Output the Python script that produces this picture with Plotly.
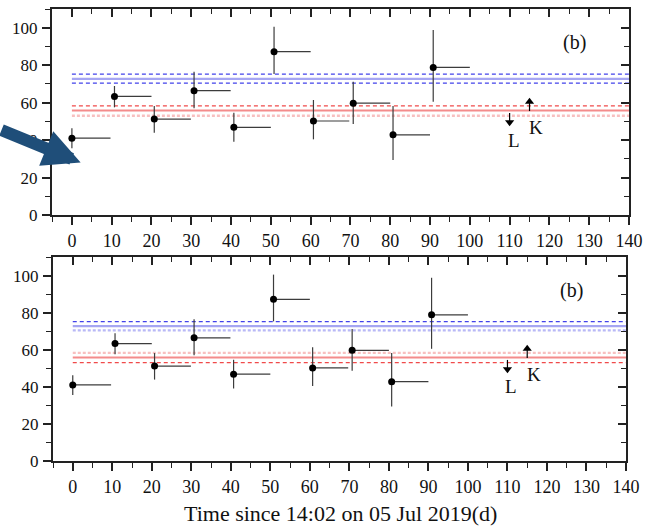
import numpy as np
import plotly.graph_objects as go

# --- measurements (days since 14:02 on 05 Jul 2019) ---
t_start = [0.0, 10.7, 20.7, 30.7, 40.7, 50.8, 60.7, 70.7, 80.7, 90.8]
t_end = [9.7, 20.0, 29.9, 39.9, 50.0, 60.0, 69.7, 80.0, 90.0, 100.0]
value = [41.0, 63.3, 51.2, 66.4, 46.8, 87.2, 50.2, 59.7, 42.8, 78.8]
value_hi = [46.3, 68.9, 58.2, 76.5, 54.6, 100.5, 61.4, 71.2, 58.2, 98.8]
value_lo = [35.6, 57.5, 43.9, 57.0, 39.1, 75.3, 40.4, 48.6, 29.4, 60.5]

# limits: L is an upper limit, K a lower limit
limit_names = ["L", "K"]
limit_t = [110.0, 115.0]
limit_value = [49.5, 60.5]
limit_stem_from = [54.5, 55.5]
limit_dir = ["down", "up"]

# reference levels (mean and band edges)
blue_level = [75.2, 72.7, 70.4]   # upper, mean, lower
red_level = [58.3, 55.8, 53.0]    # upper, mean, lower
level_t = [0, 140]

x_ticks = list(range(0, 141, 10))
y_ticks = list(range(0, 101, 20))

FONT = "Liberation Serif"
BAR = "#3c3c3c"

# line styles for each panel: (color, width, dash)
DB = ("#4242ea", 1.3, "4px,3px")      # dark blue dashed
LB = ("#a6a6f2", 2.2, "solid")        # light blue solid
LBd = ("#b9b9f6", 2.2, "3px,2px")     # light blue dotted
RD = ("#f04a4a", 1.3, "4px,3px")      # red dashed
LR = ("#f48c8c", 2.2, "solid")        # light red solid
PD = ("#f8c0c0", 2.4, "3px,2px")      # pale pink dotted

panel_styles = [
    {"blue": [DB, LB, DB], "red": [RD, LR, PD]},
    {"blue": [DB, LB, LBd], "red": [PD, LR, RD]},
]

t_start_a = np.array(t_start)
v = np.array(value)
err_up = np.array(value_hi) - v
err_dn = v - np.array(value_lo)
err_right = np.array(t_end) - t_start_a

fig = go.Figure()

axes = [("x", "y"), ("x2", "y2")]
for p, (xa, ya) in enumerate(axes):
    st = panel_styles[p]
    for lv, style in zip(blue_level, st["blue"]):
        fig.add_trace(go.Scatter(x=level_t, y=[lv, lv], mode="lines", xaxis=xa, yaxis=ya,
                                 line=dict(color=style[0], width=style[1], dash=style[2]),
                                 showlegend=False, hoverinfo="skip"))
    for lv, style in zip(red_level, st["red"]):
        fig.add_trace(go.Scatter(x=level_t, y=[lv, lv], mode="lines", xaxis=xa, yaxis=ya,
                                 line=dict(color=style[0], width=style[1], dash=style[2]),
                                 showlegend=False, hoverinfo="skip"))
    fig.add_trace(go.Scatter(
        x=t_start, y=value, mode="markers", xaxis=xa, yaxis=ya,
        marker=dict(color="black", size=7),
        error_y=dict(type="data", symmetric=False, array=err_up, arrayminus=err_dn,
                     color=BAR, thickness=1.2, width=0),
        error_x=dict(type="data", symmetric=False, array=err_right,
                     arrayminus=np.zeros(len(t_start)), color=BAR, thickness=1.2, width=0),
        showlegend=False))
    for name, lt, lval, lfrom, d in zip(limit_names, limit_t, limit_value, limit_stem_from, limit_dir):
        fig.add_trace(go.Scatter(x=[lt, lt], y=[lfrom, lval], mode="lines", xaxis=xa, yaxis=ya,
                                 line=dict(color="black", width=1.2), showlegend=False))
        fig.add_trace(go.Scatter(x=[lt], y=[lval], mode="markers", xaxis=xa, yaxis=ya,
                                 marker=dict(symbol="triangle-" + d, size=8, color="black"),
                                 showlegend=False))
    # empty traces to activate the mirrored tick axes
    fig.add_trace(go.Scatter(x=[None], y=[None], xaxis="x%d" % (3 + 2 * p),
                             yaxis="y%d" % (3 + 2 * p), showlegend=False))

top_dom = [1 - 215 / 527, 1 - 9 / 527]
bot_dom = [1 - 461 / 527, 1 - 257 / 527]
xdom_top = [52 / 646, 629 / 646]
xdom_bot = [53 / 646, 626 / 646]
xr = [-5, 140]
yr = [0, 110]

tickfont = dict(family=FONT, size=18, color="#111")
ytickfont = dict(family=FONT, size=17, color="#111")

common = dict(tickwidth=1.5, tickcolor="#222", showline=True, linewidth=2, linecolor="#222",
              showgrid=False, zeroline=False, automargin=False, tickmode="array", ticklen=8)


def main_x(dom, anchor):
    return dict(domain=dom, anchor=anchor, range=xr, tickvals=x_ticks, ticks="outside",
                minor=dict(dtick=5, tick0=0, ticks="outside", ticklen=5, tickwidth=1.3, tickcolor="#222"),
                tickfont=tickfont, ticklabelstandoff=0, **common)


def main_y(dom, anchor):
    return dict(domain=dom, anchor=anchor, range=yr, tickvals=y_ticks, ticks="outside",
                minor=dict(dtick=10, tick0=0, ticks="outside", ticklen=5, tickwidth=1.3, tickcolor="#222"),
                tickfont=ytickfont, ticklabelstandoff=1, **common)


def mirror_x(over, anchor):
    return dict(overlaying=over, anchor=anchor, side="top", range=xr, tickvals=x_ticks,
                ticks="inside",
                minor=dict(dtick=5, tick0=0, ticks="inside", ticklen=5, tickwidth=1.3, tickcolor="#222"),
                showticklabels=False, **common)


def mirror_y(over, anchor):
    return dict(overlaying=over, anchor=anchor, side="right", range=yr, tickvals=y_ticks,
                ticks="inside",
                minor=dict(dtick=10, tick0=0, ticks="inside", ticklen=5, tickwidth=1.3, tickcolor="#222"),
                showticklabels=False, **common)


annotations = []
for xa, ya in axes:
    annotations.append(dict(x=126.3, y=92, xref=xa, yref=ya, text="(b)", showarrow=False,
                            font=dict(family=FONT, size=20, color="#111")))
    annotations.append(dict(x=111, y=40, xref=xa, yref=ya, text="L", showarrow=False,
                            font=dict(family=FONT, size=19, color="#111")))
    annotations.append(dict(x=116.6, y=46.8, xref=xa, yref=ya, text="K", showarrow=False,
                            font=dict(family=FONT, size=19, color="#111")))

annotations.append(dict(x=340 / 646, y=0, xref="paper", yref="paper", yanchor="bottom",
                        text="Time since 14:02 on 05 Jul 2019(d)", showarrow=False, borderpad=0,
                        font=dict(family=FONT, size=22, color="#111")))

# pointer arrow
annotations.append(dict(x=2.2, y=28.0, xref="x", yref="y", text="", showarrow=True,
                        ax=-84, ay=-33, arrowhead=2, arrowwidth=12, arrowsize=0.62,
                        arrowcolor="#1f4e79", standoff=0))

fig.update_layout(
    width=646, height=527, margin=dict(l=0, r=0, t=0, b=0, autoexpand=False),
    paper_bgcolor="white", plot_bgcolor="white",
    xaxis=main_x(xdom_top, "y"), yaxis=main_y(top_dom, "x"),
    xaxis2=main_x(xdom_bot, "y2"), yaxis2=main_y(bot_dom, "x2"),
    xaxis3=mirror_x("x", "y"), yaxis3=mirror_y("y", "x"),
    xaxis5=mirror_x("x2", "y2"), yaxis5=mirror_y("y2", "x2"),
    annotations=annotations,
)

fig.write_html("out.html")
